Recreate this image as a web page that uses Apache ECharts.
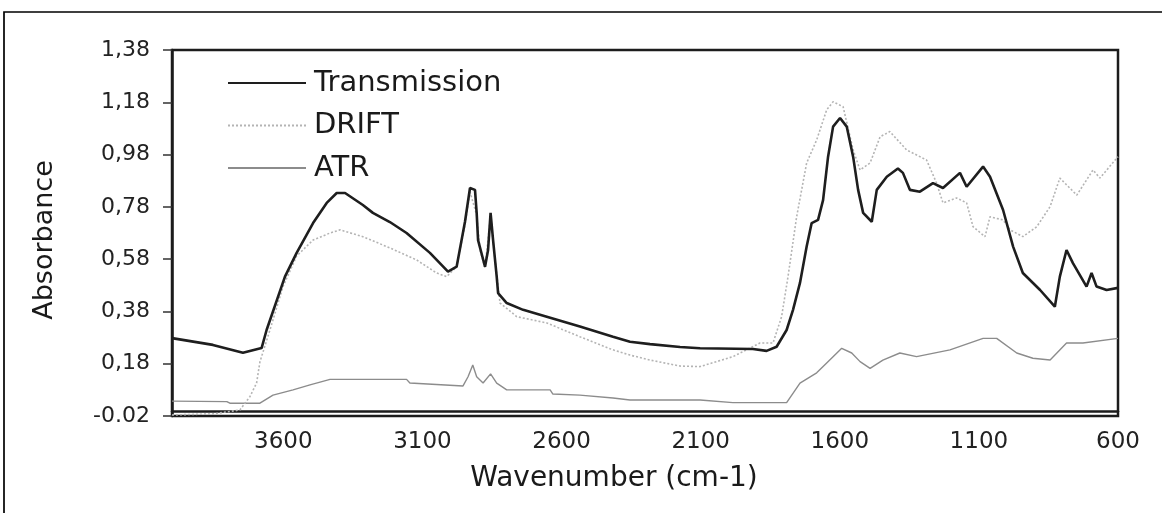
<!DOCTYPE html>
<html>
<head>
<meta charset="utf-8">
<script src="https://cdn.jsdelivr.net/npm/echarts@6/dist/echarts.min.js"></script>
<style>
  html, body { margin: 0; padding: 0; background: #ffffff; }
  #chart { width: 1162px; height: 513px; }
</style>
</head>
<body>
<div id="chart"></div>
<script>
// ---- Data ----
const seriesNames = ['Transmission', 'DRIFT', 'ATR'];

const transWN = [4000,3853,3745,3678,3660,3594,3552,3493,3444,3408,3378,3314,3278,3217,3157,3073,3008,2977,2947,2929,2911,2905,2900,2875,2864,2855,2846,2833,2828,2797,2738,2653,2534,2415,2354,2282,2174,2102,1912,1863,1827,1791,1768,1743,1719,1701,1678,1660,1642,1624,1599,1575,1552,1534,1516,1485,1467,1431,1391,1373,1348,1312,1265,1229,1168,1144,1085,1060,1013,977,942,880,827,809,785,762,713,695,677,641,600];
const transAbs = [0.278,0.252,0.222,0.240,0.309,0.513,0.604,0.718,0.795,0.833,0.833,0.787,0.757,0.722,0.680,0.604,0.532,0.551,0.723,0.852,0.845,0.757,0.653,0.551,0.615,0.757,0.653,0.513,0.450,0.412,0.386,0.360,0.322,0.283,0.264,0.255,0.244,0.239,0.236,0.229,0.245,0.309,0.386,0.489,0.628,0.718,0.730,0.806,0.972,1.087,1.120,1.087,0.972,0.845,0.757,0.723,0.845,0.895,0.927,0.910,0.845,0.838,0.871,0.852,0.910,0.857,0.934,0.895,0.768,0.628,0.527,0.462,0.398,0.513,0.615,0.565,0.475,0.527,0.475,0.462,0.470];

const driftWN = [4000,3853,3756,3720,3696,3684,3648,3601,3552,3493,3432,3396,3314,3217,3121,3049,3013,2977,2947,2929,2905,2893,2875,2855,2843,2821,2761,2653,2534,2415,2354,2282,2174,2102,1984,1887,1840,1809,1786,1755,1719,1683,1647,1624,1588,1552,1527,1491,1455,1420,1360,1288,1252,1229,1180,1144,1121,1078,1060,1013,988,942,892,844,809,748,690,665,600];
const driftAbs = [-0.016,-0.012,0.003,0.054,0.106,0.187,0.309,0.475,0.592,0.653,0.680,0.692,0.666,0.623,0.577,0.527,0.513,0.551,0.711,0.837,0.749,0.615,0.546,0.749,0.615,0.412,0.360,0.336,0.283,0.233,0.213,0.194,0.171,0.169,0.207,0.259,0.259,0.360,0.513,0.742,0.948,1.036,1.151,1.182,1.163,0.998,0.921,0.948,1.048,1.068,0.998,0.959,0.871,0.795,0.814,0.795,0.704,0.666,0.742,0.730,0.692,0.666,0.704,0.781,0.890,0.825,0.921,0.890,0.972];

const atrWN = [4000,3803,3792,3684,3637,3565,3504,3432,3157,3145,2954,2936,2919,2905,2882,2855,2833,2797,2641,2631,2534,2415,2354,2102,1984,1791,1743,1683,1647,1593,1557,1527,1491,1445,1384,1324,1204,1085,1036,964,906,844,785,726,600];
const atrAbs = [0.037,0.035,0.029,0.029,0.060,0.080,0.099,0.120,0.120,0.106,0.095,0.130,0.175,0.130,0.106,0.141,0.106,0.080,0.080,0.064,0.060,0.049,0.041,0.041,0.031,0.031,0.106,0.145,0.183,0.239,0.221,0.188,0.162,0.194,0.221,0.207,0.233,0.277,0.277,0.221,0.201,0.194,0.259,0.259,0.277];

const xTickValues = [600,1100,1600,2100,2600,3100,3600];
const xTickLabels = ['600','1100','1600','2100','2600','3100','3600'];
const yTickValues = [-0.02,0.18,0.38,0.58,0.78,0.98,1.18,1.38];
const yTickLabels = ['-0.02','0,18','0,38','0,58','0,78','0,98','1,18','1,38'];

const xTitle = 'Wavenumber (cm-1)';
const yTitle = 'Absorbance';

// ---- Build ----
function pairs(xs, ys) { return xs.map((x, i) => [x, ys[i]]); }
function lookup(values, labels) {
  return function (v) {
    for (let i = 0; i < values.length; i++) {
      if (Math.abs(values[i] - v) < 1e-6) return labels[i];
    }
    return '';
  };
}
const FONT = 'DejaVu Sans';

const chart = echarts.init(document.getElementById('chart'), null, { renderer: 'canvas' });
chart.setOption({
  animation: false,
  backgroundColor: '#ffffff',
  grid: {
    left: 172, right: 44, top: 50, bottom: 97,
    show: true, borderColor: '#1c1c1c', borderWidth: 2.5, backgroundColor: 'transparent'
  },
  legend: {
    data: seriesNames,
    orient: 'vertical',
    left: 222, top: 63,
    itemWidth: 78, itemHeight: 14, itemGap: 12.5,
    itemStyle: { opacity: 0 },
    textStyle: { fontFamily: FONT, fontSize: 29, color: '#1a1a1a', lineHeight: 30, padding: [0, 0, 0, 3] }
  },
  xAxis: {
    type: 'value', inverse: true, min: 600, max: 4000,
    axisLine: { show: true, lineStyle: { color: '#1c1c1c', width: 2.5 } },
    axisTick: { show: false },
    splitLine: { show: false },
    axisLabel: {
      customValues: xTickValues,
      fontFamily: FONT, fontSize: 23, color: '#222', margin: 15,
      formatter: lookup(xTickValues, xTickLabels)
    }
  },
  yAxis: {
    type: 'value', min: -0.02, max: 1.38,
    axisLine: { show: true, lineStyle: { color: '#1c1c1c', width: 2.5 } },
    axisTick: { show: true, customValues: yTickValues, length: 9, lineStyle: { color: '#333', width: 1.5 } },
    splitLine: { show: false },
    axisLabel: {
      customValues: yTickValues,
      fontFamily: FONT, fontSize: 22, color: '#222', margin: 22,
      formatter: lookup(yTickValues, yTickLabels)
    }
  },
  graphic: [
    { type: 'rect', silent: true, shape: { x: 4, y: 12, width: 1300, height: 700 },
      style: { fill: 'none', stroke: '#000', lineWidth: 1.7 } },
    { type: 'text', silent: true, x: 45, y: 240, rotation: Math.PI / 2,
      style: { text: yTitle, fontFamily: FONT, fontSize: 27, fill: '#1a1a1a', align: 'center', verticalAlign: 'middle' } },
    { type: 'text', silent: true, x: 614, y: 479,
      style: { text: xTitle, fontFamily: FONT, fontSize: 28, fill: '#1a1a1a', align: 'center', verticalAlign: 'middle' } }
  ],
  series: [
    { name: 'ATR', type: 'line', data: pairs(atrWN, atrAbs), showSymbol: false, symbol: 'none',
      lineStyle: { color: '#8c8c8c', width: 1.4 }, itemStyle: { color: '#8c8c8c' } },
    { name: 'DRIFT', type: 'line', data: pairs(driftWN, driftAbs), showSymbol: false, symbol: 'none',
      lineStyle: { color: '#b4b4b4', width: 1.6, type: [2, 2] }, itemStyle: { color: '#b4b4b4' } },
    { name: 'Transmission', type: 'line', data: pairs(transWN, transAbs), showSymbol: false, symbol: 'none',
      lineStyle: { color: '#1e1e1e', width: 2.6 }, itemStyle: { color: '#1e1e1e' } }
  ]
});
</script>
</body>
</html>
